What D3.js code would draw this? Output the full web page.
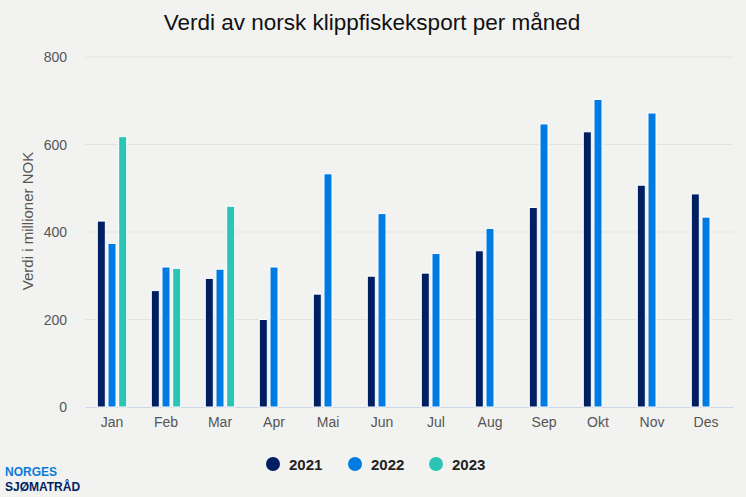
<!DOCTYPE html>
<html>
<head>
<meta charset="utf-8">
<script src="https://cdn.jsdelivr.net/npm/d3@7"></script>
<style>
body { margin: 0; background: #f2f3f1; }
svg { display: block; font-family: "Liberation Sans", Arial, sans-serif; }
.tick-label { fill: #555; font-size: 14px; }
</style>
</head>
<body>
<svg width="746" height="497"></svg>
<script>
var months = ['Jan', 'Feb', 'Mar', 'Apr', 'Mai', 'Jun', 'Jul', 'Aug', 'Sep', 'Okt', 'Nov', 'Des'];
var years = ['2021', '2022', '2023'];
var colors = ['#001e62', '#007be3', '#2cc5b5'];
var v2021 = [425, 266, 294, 200, 258, 299, 306, 357, 456, 629, 507, 487];
var v2022 = [374, 320, 315, 320, 533, 442, 351, 408, 647, 703, 672, 434];
var v2023 = [618, 317, 459, null, null, null, null, null, null, null, null, null];
var yTicks = [0, 200, 400, 600, 800];

var series = [v2021, v2022, v2023];
var svg = d3.select('svg');
var m = {left: 85, right: 733, top: 57, bottom: 407};

svg.append('rect').attr('width', 746).attr('height', 497).attr('fill', '#f2f3f1');

var x = d3.scaleBand().domain(months).range([m.left, m.right]);
var xs = d3.scaleBand().domain(years).range([0, x.bandwidth()]).paddingInner(0.25).paddingOuter(1.15);
var y = d3.scaleLinear().domain([0, 800]).range([m.bottom, m.top]);

// gridlines
svg.append('g').selectAll('line').data(yTicks.slice(1)).enter().append('line')
	.attr('x1', m.left).attr('x2', m.right)
	.attr('y1', function(d){ return y(d); }).attr('y2', function(d){ return y(d); })
	.attr('stroke', '#e3e4e2').attr('stroke-width', 1);

var yAxis = d3.axisLeft(y).tickValues(yTicks).tickSize(0).tickPadding(0);
var gy = svg.append('g').attr('transform', 'translate(67,0)').call(yAxis);
gy.select('.domain').remove();
gy.selectAll('text').attr('class', 'tick-label').attr('dy', '0.35em');

var xAxis = d3.axisBottom(x).tickSize(0).tickPadding(10);
var gx = svg.append('g').attr('transform', 'translate(0,' + m.bottom + ')').call(xAxis);
gx.select('.domain').attr('stroke', '#ccd6eb');
gx.selectAll('text').attr('class', 'tick-label');

// bars, one group per year
series.forEach(function(vals, si){
	var data = vals.map(function(v, i){ return {m: months[i], v: v}; }).filter(function(d){ return d.v != null; });
	svg.append('g').selectAll('rect').data(data).enter().append('rect')
		.attr('x', function(d){ return x(d.m) + xs(years[si]); })
		.attr('width', xs.bandwidth())
		.attr('y', function(d){ return y(d.v); })
		.attr('height', function(d){ return y(0) - y(d.v); })
		.attr('fill', colors[si])
		.attr('stroke', '#ffffff').attr('stroke-width', 1);
});

// title
svg.append('text').attr('x', 372).attr('y', 30).attr('text-anchor', 'middle')
	.attr('font-size', '22.5px').attr('fill', '#111')
	.text('Verdi av norsk klippfiskeksport per måned');

svg.append('text').attr('transform', 'translate(33,' + ((m.top + m.bottom) / 2 - 11) + ') rotate(-90)')
	.attr('text-anchor', 'middle').attr('font-size', '15px').attr('fill', '#555')
	.text('Verdi i millioner NOK');

// legend
var legendX = [273, 355, 436];
var lg = svg.append('g');
years.forEach(function(yr, i){
	lg.append('circle').attr('cx', legendX[i]).attr('cy', 464).attr('r', 7).attr('fill', colors[i]);
	lg.append('text').attr('x', legendX[i] + 16).attr('y', 469.5)
		.attr('font-size', '15px').attr('font-weight', 'bold').attr('fill', '#222').text(yr);
});

// logo
svg.append('text').attr('x', 5).attr('y', 476).attr('font-size', '12px').attr('font-weight', 'bold')
	.attr('fill', '#0a7bd6').text('NORGES');
svg.append('text').attr('x', 5).attr('y', 491).attr('font-size', '12px').attr('font-weight', 'bold')
	.attr('fill', '#001e62').text('SJØMATRÅD');
</script>
</body>
</html>
